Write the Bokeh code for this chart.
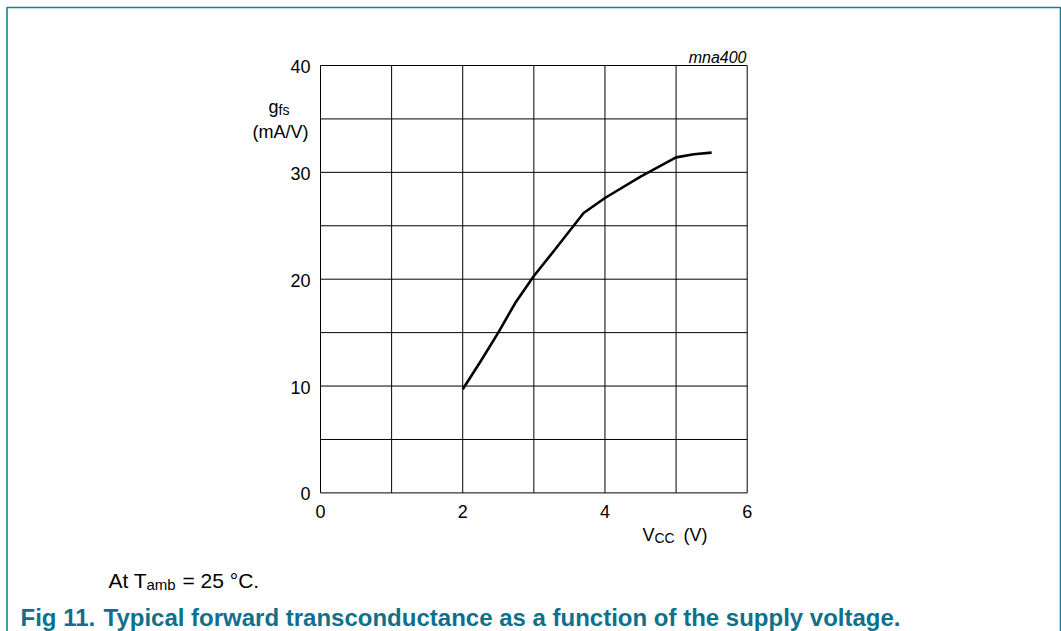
from bokeh.plotting import figure
from bokeh.models import Label, BoxAnnotation, Range1d
from bokeh.core.properties import value
from bokeh.embed import file_html
from bokeh.resources import INLINE

# ---- data ----
vcc = [2.0, 2.25, 2.5, 2.75, 3.0, 3.3, 3.7, 4.0, 4.5, 5.0, 5.25, 5.5]
gfs = [9.7, 12.3, 15.0, 17.9, 20.3, 22.8, 26.2, 27.6, 29.6, 31.4, 31.7, 31.85]
x_ticks = [0, 2, 4, 6]
y_ticks = [0, 10, 20, 30, 40]
x_grid = [0, 1, 2, 3, 4, 5, 6]
y_grid = [0, 5, 10, 15, 20, 25, 30, 35, 40]

FONT = "Liberation Sans"
TEAL = "#10708c"
BORDER = "#1a7d9b"

W, H = 1061, 631
# chart frame placement (pixels on the canvas)
PX0, PX1 = 320.0, 746.7   # x = 0 .. 6
PY1, PY0 = 65.0, 492.4    # y = 40 .. 0
xs = (PX1 - PX0) / (max(x_grid) - min(x_grid))
ys = (PY0 - PY1) / (max(y_grid) - min(y_grid))

p = figure(width=W, height=H,
           x_range=Range1d(-PX0 / xs, (W - PX0) / xs),
           y_range=Range1d((PY0 - H) / ys, PY0 / ys),
           output_backend="svg", toolbar_location=None,
           x_axis_location=None, y_axis_location=None,
           min_border=0)
p.min_border_left = p.min_border_right = p.min_border_top = p.min_border_bottom = 0
p.background_fill_color = "white"
p.border_fill_color = "white"
p.outline_line_color = None
p.xgrid.visible = False
p.ygrid.visible = False

# grid (includes the frame lines)
gx0, gx1 = min(x_grid), max(x_grid)
gy0, gy1 = min(y_grid), max(y_grid)
p.segment(x0=x_grid, y0=[gy0] * len(x_grid), x1=x_grid, y1=[gy1] * len(x_grid),
          line_color="black", line_width=1)
p.segment(x0=[gx0] * len(y_grid), y0=y_grid, x1=[gx1] * len(y_grid), y1=y_grid,
          line_color="black", line_width=1)

# curve
p.line(vcc, gfs, line_color="black", line_width=2.6, line_join="round")

# tick labels
p.text(x=x_ticks, y=[gy0] * len(x_ticks), text=[str(t) for t in x_ticks],
       text_font=value(FONT), text_font_size="18px", text_align="center",
       text_baseline="middle", y_offset=19, text_color="black")
p.text(x=[gx0] * len(y_ticks), y=y_ticks, text=[str(t) for t in y_ticks],
       text_font=value(FONT), text_font_size="18px", text_align="right",
       text_baseline="middle", x_offset=-10, y_offset=1, text_color="black")


def lab(text, px, py, size, align="left", style="normal", color="black"):
    p.add_layout(Label(x=px, y=H - py, x_units="screen", y_units="screen",
                       text=text, text_font=FONT, text_font_size=f"{size}px",
                       text_align=align, text_baseline="alphabetic",
                       text_font_style=style, text_color=color))


# y-axis title
lab("g", 268, 106, 18)
lab("fs", 278, 109, 14)
lab("(mA/V)", 280, 131, 18, align="center")
# x-axis title
lab("V", 642, 534, 18)
lab("CC", 654, 537, 14)
lab("(V)", 707, 534, 18, align="right")
# code tag
lab("mna400", 746, 57, 16, align="right", style="italic")
# note
lab("At T", 108, 580, 21)
lab("amb", 146, 584, 15)
lab("= 25 \u00b0C.", 182, 580, 21)
# caption
lab("Fig 11.", 20, 617, 24, style="bold", color=TEAL)
lab("Typical forward transconductance as a function of the supply voltage.",
    103, 617, 24, style="bold", color=TEAL)

# page frame
p.add_layout(BoxAnnotation(left=6.5, right=W - 1, top=H - 7, bottom=-20,
                           left_units="screen", right_units="screen",
                           top_units="screen", bottom_units="screen",
                           fill_alpha=0, line_alpha=1, line_color=BORDER,
                           line_width=1.6))

open("out.html", "w").write(file_html(p, INLINE))
